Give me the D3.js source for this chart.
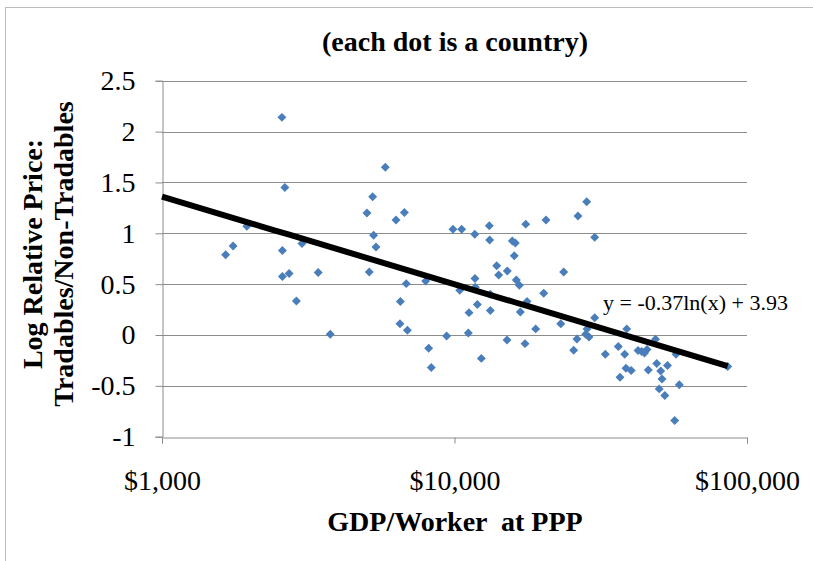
<!DOCTYPE html>
<html><head><meta charset="utf-8">
<script src="https://cdn.jsdelivr.net/npm/d3@7"></script>
<style>body{margin:0;background:#fff}svg{display:block}</style>
</head><body>
<script>
const gdp = [2570,5800,2630,5250,5020,6310,1950,1750,1650,5290,5390,2580,3010,2580,2720,3420,5110,2880,6740,6840,7970,6530,6510,6900,3760,9400,8160,8330,9880,10580,11730,13150,13190,17520,20550,28310,26430,30150,15760,16140,16010,13940,14160,15150,23620,11750,11780,16270,16660,10420,13260,20180,17700,11970,11210,13260,16790,23080,18950,11150,15120,17420,12350,28090,28830,30150,28380,26220,25550,32780,36310,38190,38800,36800,38580,40190,42410,43650,44620,45510,48670,45980,49130,50700,53480,51220,50100,52360,57200,58690,56600,85900];
const logPrice = [2.14,1.65,1.45,1.36,1.20,1.13,1.07,0.875,0.79,0.98,0.865,0.83,0.90,0.575,0.605,0.615,0.62,0.335,1.205,0.505,0.53,0.33,0.11,0.046,0.007,-0.01,-0.13,-0.32,1.04,1.04,0.99,1.075,0.935,1.09,1.13,1.31,1.17,0.96,0.925,0.905,0.78,0.68,0.59,0.63,0.62,0.555,0.47,0.54,0.49,0.44,0.40,0.41,0.33,0.30,0.22,0.24,0.226,0.11,0.06,0.02,-0.05,-0.085,-0.23,0.007,-0.02,0.17,0.06,-0.04,-0.15,-0.19,-0.113,-0.19,0.06,-0.415,-0.326,-0.35,-0.152,-0.162,-0.177,-0.143,-0.041,-0.344,-0.28,-0.354,-0.30,-0.433,-0.53,-0.595,-0.19,-0.49,-0.84,-0.31];
const yTicks = [-1,-0.5,0,0.5,1,1.5,2,2.5];
const yTickLabels = ["-1","-0.5","0","0.5","1","1.5","2","2.5"];
const xTicks = [1000,10000,100000];
const xTickLabels = ["$1,000","$10,000","$100,000"];
const trendCoef = [-0.374, 3.944];   // drawn trend (label rounds to -0.37, 3.93)
const trendRange = [1000, 85900];
const equationText = "y = -0.37ln(x) + 3.93";
const titleText = "(each dot is a country)";
const xTitle = "GDP/Worker  at PPP";
const yTitleLines = ["Log Relative Price:", "Tradables/Non-Tradables"];

const W = 813, H = 561;
const svg = d3.select("body").append("svg").attr("width", W).attr("height", H);
const serif = "'Liberation Serif','Times New Roman',serif";

svg.append("rect").attr("x",5.5).attr("y",7.5).attr("width",W+20).attr("height",H+20)
  .attr("fill","#fff").attr("stroke","#bcbcbc").attr("stroke-width",1);

const x = d3.scaleLog().domain([1000,100000]).range([162,747]);
const y = d3.scaleLinear().domain([-1,2.5]).range([436.7,80.75]);

// gridlines
svg.append("g").selectAll("line").data(yTicks.filter(d=>d>-1)).join("line")
  .attr("x1",162).attr("x2",747)
  .attr("y1",d=>Math.round(y(d))+0.5).attr("y2",d=>Math.round(y(d))+0.5)
  .attr("stroke","#8c8c8c").attr("stroke-width",1);

// y axis
const yAxis = svg.append("g").attr("transform","translate(162.5,0)")
  .call(d3.axisLeft(y).tickValues(yTicks).tickFormat((d,i)=>yTickLabels[i]).tickSize(7).tickPadding(20));
yAxis.select(".domain").attr("stroke","#8c8c8c");
yAxis.selectAll(".tick line").attr("stroke","#8c8c8c");
yAxis.selectAll(".tick text").attr("font-family",serif).attr("font-size",28).attr("fill","#000");

// x axis
const xAxis = svg.append("g").attr("transform",`translate(0,${Math.round(y(-1))+0.5})`)
  .call(d3.axisBottom(x).tickValues(xTicks).tickFormat((d,i)=>xTickLabels[i]).tickSize(6).tickPadding(27));
xAxis.select(".domain").attr("stroke","#8c8c8c");
xAxis.selectAll(".tick line").attr("stroke","#8c8c8c");
xAxis.selectAll(".tick text").attr("font-family",serif).attr("font-size",28).attr("fill","#000");

// points
const diamond = d3.symbol().type(d3.symbolSquare).size(40);
svg.append("g").selectAll("path").data(gdp.map((g,i)=>[g,logPrice[i]])).join("path")
  .attr("d",diamond)
  .attr("transform",d=>`translate(${x(d[0])},${y(d[1])}) rotate(45)`)
  .attr("fill","#4a7ebb");

// trend line
const tl = d3.range(0,41).map(i=>{const lx = Math.log(trendRange[0]) + (Math.log(trendRange[1])-Math.log(trendRange[0]))*i/40; return [Math.exp(lx), trendCoef[0]*lx + trendCoef[1]];});
svg.append("path").datum(tl)
  .attr("d",d3.line().x(d=>x(d[0])).y(d=>y(d[1])))
  .attr("fill","none").attr("stroke","#000").attr("stroke-width",6);

// equation
svg.append("text").attr("x",603).attr("y",310).text(equationText)
  .attr("font-family",serif).attr("font-size",22).attr("fill","#000");

// title
svg.append("text").attr("x",455).attr("y",51).attr("text-anchor","middle").text(titleText)
  .attr("font-family",serif).attr("font-weight","bold").attr("font-size",28).attr("fill","#000");

// x title
svg.append("text").attr("x",455).attr("y",531).attr("text-anchor","middle").text(xTitle)
  .attr("font-family",serif).attr("font-weight","bold").attr("font-size",28).attr("fill","#000")
  .attr("xml:space","preserve").style("white-space","pre");

// y title
const yt = svg.append("text").attr("transform","translate(42,254) rotate(-90)")
  .attr("text-anchor","middle").attr("font-family",serif).attr("font-weight","bold")
  .attr("font-size",28).attr("fill","#000");
yTitleLines.forEach((t,i)=>yt.append("tspan").attr("x",0).attr("dy",i===0?0:31).text(t));
</script>
</body></html>
